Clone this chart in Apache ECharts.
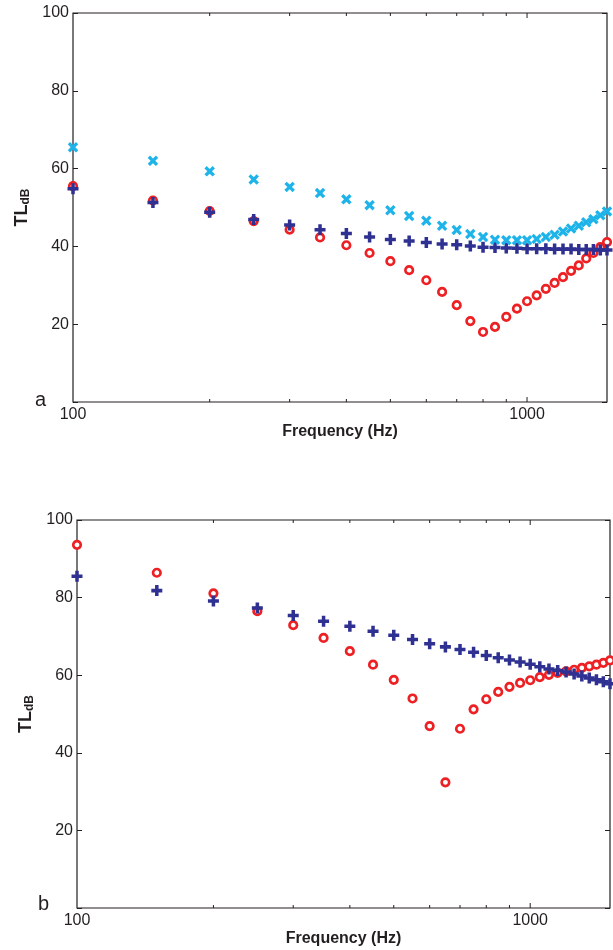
<!DOCTYPE html>
<html>
<head>
<meta charset="utf-8">
<script src="https://cdn.jsdelivr.net/npm/echarts@6.0.0/dist/echarts.min.js"></script>
<style>
  html, body { margin: 0; padding: 0; background: #fff; }
  #chart { width: 613px; height: 950px; }
</style>
</head>
<body>
<div id="chart"></div>
<script>
// frequencies (Hz), one point every 50 Hz
var freq = [100, 150, 200, 250, 300, 350, 400, 450, 500, 550, 600, 650, 700, 750, 800,
            850, 900, 950, 1000, 1050, 1100, 1150, 1200, 1250, 1300, 1350, 1400, 1450, 1500];

// panel a
var aCircle = [55.5, 51.8, 49.1, 46.5, 44.3, 42.3, 40.3, 38.3, 36.2, 33.9, 31.3, 28.3, 24.9, 20.8, 18.0,
               19.3, 21.9, 24.0, 25.9, 27.4, 29.1, 30.6, 32.1, 33.7, 35.1, 36.9, 38.3, 39.8, 41.1];
var aPlus   = [54.8, 51.3, 48.8, 46.9, 45.5, 44.3, 43.3, 42.4, 41.8, 41.4, 41.0, 40.6, 40.4, 40.1, 39.8,
               39.7, 39.6, 39.5, 39.4, 39.4, 39.4, 39.3, 39.3, 39.3, 39.2, 39.2, 39.2, 39.1, 39.1];
var aCross  = [65.5, 62.0, 59.3, 57.2, 55.3, 53.7, 52.1, 50.6, 49.3, 47.8, 46.6, 45.3, 44.2, 43.2, 42.4,
               41.7, 41.6, 41.6, 41.6, 41.9, 42.4, 43.0, 43.8, 44.6, 45.3, 46.2, 47.0, 48.0, 49.0];

// panel b
var bCircle = [93.6, 86.4, 81.1, 76.5, 72.9, 69.6, 66.2, 62.7, 58.8, 54.0, 46.9, 32.4, 46.2, 51.2, 53.8,
               55.7, 57.0, 58.0, 58.7, 59.5, 60.1, 60.6, 61.0, 61.4, 61.9, 62.3, 62.7, 63.2, 63.8];
var bPlus   = [85.5, 81.8, 79.1, 77.3, 75.4, 73.9, 72.6, 71.3, 70.3, 69.2, 68.1, 67.3, 66.6, 65.9, 65.1,
               64.5, 63.9, 63.4, 62.8, 62.2, 61.6, 61.2, 60.8, 60.3, 59.8, 59.3, 58.8, 58.3, 57.8];

// log-axis tick marks along top and bottom edges
var xTicks = [200, 300, 400, 500, 600, 700, 800, 900, 1000];
var xLabels = [100, 1000];

var ink = '#231f20';
var red = '#ed2024';
var navy = '#2e3192';
var cyan = '#1eb4ea';
var font = 'Liberation Sans, Arial, Helvetica, sans-serif';

var plusPath = 'path://M3.4,0H6.6V3.4H10V6.6H6.6V10H3.4V6.6H0V3.4H3.4Z';
var crossPath = 'path://M0,2.2L2.2,0L5,2.8L7.8,0L10,2.2L7.2,5L10,7.8L7.8,10L5,7.2L2.2,10L0,7.8L2.8,5Z';

function pairs(ys) {
    return freq.map(function (f, i) { return [f, ys[i]]; });
}

function tickItem(params, api) {
    var f = api.value(0);
    var lo = api.coord([f, 0]);
    var hi = api.coord([f, 100]);
    var len = xLabels.indexOf(f) >= 0 ? 5 : 3;
    var st = { stroke: ink, lineWidth: 1 };
    return {
        type: 'group',
        children: [
            { type: 'line', shape: { x1: lo[0], y1: lo[1], x2: lo[0], y2: lo[1] - len }, style: st },
            { type: 'line', shape: { x1: hi[0], y1: hi[1], x2: hi[0], y2: hi[1] + len }, style: st }
        ]
    };
}

function xAxisFor(g, gap) {
    return {
        gridIndex: g,
        type: 'log',
        logBase: 10,
        min: 100,
        max: 1500,
        name: 'Frequency (Hz)',
        nameLocation: 'middle',
        nameGap: gap,
        nameTextStyle: { fontFamily: font, fontWeight: 'bold', fontSize: 16, color: ink },
        axisLine: { show: false },
        axisTick: { show: false },
        splitLine: { show: false },
        showMaxLabel: false,
        axisLabel: {
            margin: 5,
            fontFamily: font, fontSize: 16, color: ink,
            formatter: function (v) {
                var r = Math.round(v);
                return xLabels.indexOf(r) >= 0 ? String(r) : '';
            }
        }
    };
}

function yAxisFor(g, gap) {
    return {
        gridIndex: g,
        type: 'value',
        min: 0,
        max: 100,
        interval: 20,
        name: '{a|TL}{b|dB}',
        nameLocation: 'middle',
        nameGap: gap,
        nameTextStyle: {
            rich: {
                a: { fontFamily: font, fontWeight: 'bold', fontSize: 18, color: ink, verticalAlign: 'top', lineHeight: 18 },
                b: { fontFamily: font, fontWeight: 'bold', fontSize: 12, color: ink, verticalAlign: 'bottom', lineHeight: 12, padding: [15, 0, 0, 0] }
            }
        },
        axisLine: { show: false },
        axisTick: { show: true, inside: true, length: 5, lineStyle: { color: ink } },
        splitLine: { show: false },
        axisLabel: {
            margin: 4, fontFamily: font, fontSize: 16, color: ink,
            formatter: function (v) { return v === 0 ? '' : String(v); }
        }
    };
}

function rightAxisFor(g) {
    return {
        gridIndex: g,
        type: 'value',
        position: 'right',
        min: 0,
        max: 100,
        interval: 20,
        axisLine: { show: false },
        axisTick: { show: true, inside: true, length: 5, lineStyle: { color: ink } },
        splitLine: { show: false },
        axisLabel: { show: false }
    };
}

function circles(g, ys) {
    return {
        type: 'scatter', xAxisIndex: g, yAxisIndex: g * 2,
        symbol: 'circle', symbolSize: 7.5,
        itemStyle: { color: '#fff', borderColor: red, borderWidth: 2.7, opacity: 1 },
        data: pairs(ys)
    };
}

function plus(g, ys) {
    return {
        type: 'scatter', xAxisIndex: g, yAxisIndex: g * 2,
        symbol: plusPath, symbolSize: 11,
        itemStyle: { color: navy, opacity: 1 },
        data: pairs(ys)
    };
}

function cross(g, ys) {
    return {
        type: 'scatter', xAxisIndex: g, yAxisIndex: g * 2,
        symbol: crossPath, symbolSize: 10.5,
        itemStyle: { color: cyan, opacity: 1 },
        data: pairs(ys)
    };
}

function ticks(g) {
    return {
        type: 'custom', xAxisIndex: g, yAxisIndex: g * 2,
        silent: true, clip: false,
        renderItem: tickItem,
        data: xTicks.map(function (f) { return [f, 0]; })
    };
}

var chart = echarts.init(document.getElementById('chart'), null, { renderer: 'canvas' });

var option = {
    animation: false,
    backgroundColor: '#fff',
    grid: [
        { left: 73, top: 13, width: 534, height: 389, outerBoundsMode: 'none', show: true, borderColor: ink, borderWidth: 1.2, backgroundColor: 'transparent' },
        { left: 77, top: 520, width: 533, height: 388, outerBoundsMode: 'none', show: true, borderColor: ink, borderWidth: 1.2, backgroundColor: 'transparent' }
    ],
    xAxis: [xAxisFor(0, 22), xAxisFor(1, 23)],
    yAxis: [yAxisFor(0, 34), rightAxisFor(0), yAxisFor(1, 35), rightAxisFor(1)],
    graphic: [
        { type: 'text', left: 35, top: 390, style: { text: 'a', font: '20px ' + font, fill: ink } },
        { type: 'text', left: 38, top: 894, style: { text: 'b', font: '20px ' + font, fill: ink } }
    ],
    series: [
        ticks(0),
        circles(0, aCircle),
        plus(0, aPlus),
        cross(0, aCross),
        ticks(1),
        circles(1, bCircle),
        plus(1, bPlus)
    ]
};

chart.setOption(option);
</script>
</body>
</html>
